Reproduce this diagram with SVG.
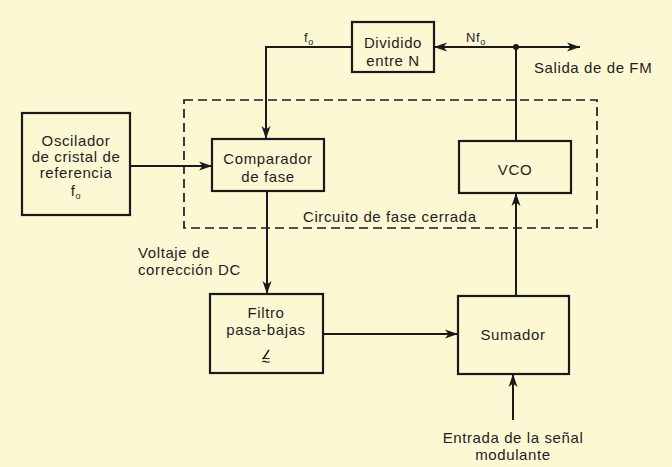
<svg xmlns="http://www.w3.org/2000/svg" width="672" height="467" viewBox="0 0 672 467">
<defs>
<marker id="ah" markerUnits="userSpaceOnUse" markerWidth="14" markerHeight="10" refX="13" refY="5" orient="auto">
<path d="M0,0.5 L13,5 L0,9.5 L3.5,5 z" fill="#1a1a1a"/>
</marker>
<style>
.box{fill:none;stroke:#1a1a1a;stroke-width:2.2}
.t{font-family:"Liberation Sans",Arial,sans-serif;font-size:15px;fill:#1e1e1e;letter-spacing:0.6px}
.c{text-anchor:middle}
.s{font-size:13px}
.ln{fill:none;stroke:#1a1a1a;stroke-width:2}
</style>
</defs>
<rect x="0" y="0" width="672" height="467" fill="#FDF8D4"/>
<rect id="pll-boundary" x="184" y="100" width="413" height="128" fill="none" stroke="#1a1a1a" stroke-width="1.7" stroke-dasharray="9 5"/>
<text class="t" x="303" y="222">Circuito de fase cerrada</text>

<g id="connectors">
<path class="ln" d="M130,166 H212" marker-end="url(#ah)"/>
<path class="ln" d="M352,47 H266 V139" marker-end="url(#ah)"/>
<path class="ln" d="M267,191 V294" marker-end="url(#ah)"/>
<path class="ln" d="M323,334 H458" marker-end="url(#ah)"/>
<path class="ln" d="M516,296 V193" marker-end="url(#ah)"/>
<path class="ln" d="M516,141 V47"/>
<path class="ln" d="M516,47 H434" marker-end="url(#ah)"/>
<path class="ln" d="M516,47 H580" marker-end="url(#ah)"/>
<path class="ln" d="M513,420 V374" marker-end="url(#ah)"/>
<circle cx="516" cy="47" r="3" fill="#1a1a1a"/>
</g>

<g id="osc">
<rect class="box" x="22" y="113" width="108" height="102"/>
<text class="t c" x="76" y="146">Oscilador</text>
<text class="t c" x="76" y="162">de cristal de</text>
<text class="t c" x="76" y="178">referencia</text>
<text class="t c" x="76" y="196">f<tspan font-size="9" dy="3">o</tspan></text>
</g>

<g id="comparador">
<rect class="box" x="212" y="139" width="112" height="52"/>
<text class="t c" x="268" y="164">Comparador</text>
<text class="t c" x="268" y="182">de fase</text>
</g>

<g id="divisor">
<rect class="box" x="352" y="22" width="82" height="50"/>
<text class="t c" x="393" y="48">Dividido</text>
<text class="t c" x="393" y="66">entre N</text>
</g>

<g id="vco">
<rect class="box" x="459" y="141" width="112" height="52"/>
<text class="t c" x="515" y="175">VCO</text>
</g>

<g id="filtro">
<rect class="box" x="210" y="294" width="113" height="79"/>
<text class="t c" x="266" y="318">Filtro</text>
<text class="t c" x="266" y="335">pasa-bajas</text>
<text class="t c" x="266" y="365" font-size="20">≈</text>
<line x1="263" y1="359" x2="269" y2="350" stroke="#1a1a1a" stroke-width="1.4"/>
</g>

<g id="sumador">
<rect class="box" x="458" y="296" width="111" height="78"/>
<text class="t c" x="513" y="340">Sumador</text>
</g>

<g id="labels">
<text class="t s" x="304" y="42">f<tspan font-size="9" dy="3">o</tspan></text>
<text class="t s" x="466" y="42">Nf<tspan font-size="9" dy="3">o</tspan></text>
<text class="t" x="534" y="73">Salida de de FM</text>
<text class="t" x="138" y="258">Voltaje de</text>
<text class="t" x="138" y="275">corrección DC</text>
<text class="t c" x="513" y="443">Entrada de la señal</text>
<text class="t c" x="513" y="460">modulante</text>
</g>
</svg>
